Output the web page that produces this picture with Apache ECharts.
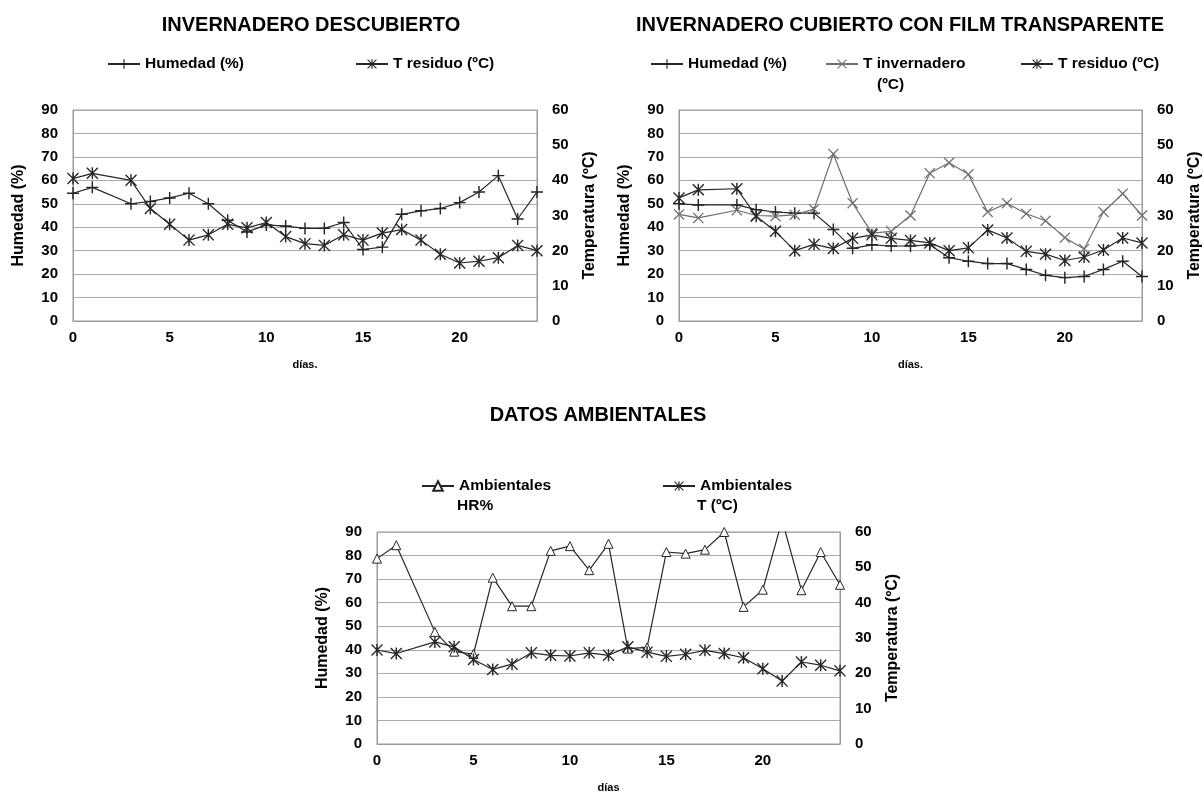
<!DOCTYPE html>
<html><head><meta charset="utf-8">
<script src="https://cdn.jsdelivr.net/npm/echarts@6/dist/echarts.min.js"></script>
<style>html,body{margin:0;padding:0;background:#fff}#c{width:1204px;height:805px}</style>
</head><body><div id="c"></div>
<script>
// ---- DATA ----
const dias = [0,1,3,4,5,6,7,8,9,10,11,12,13,14,15,16,17,18,19,20,21,22,23,24];
const xTicks = [0,5,10,15,20];
// Invernadero descubierto
const tlHumedad   = [54.5,57,50,51,52.5,54.5,50,43,38,41,40.5,39.5,39.5,42,30.5,31.5,45.5,47,48,50.5,55,62,43.5,55];
const tlTResiduo  = [40.5,42,40,32,27.5,23,24.5,27.5,26.5,28,24,22,21.5,24.5,23,25,26,23,19,16.5,17,18,21.5,20];
// Invernadero cubierto con film transparente
const trHumedad   = [50,49.5,49.5,47.5,46.5,46,46,39,31,32.5,32,32,32.5,27,25.5,24.5,24.5,22,19.5,18.5,19,22,25.5,19];
const trTInvern   = [30.3,29.3,31.5,30,29.8,30.2,31.8,47.5,33.5,25,25.5,30,42,45,41.7,31,33.5,30.5,28.5,23.7,20.5,31,36.2,30];
const trTResiduo  = [35,37.3,37.6,29.8,25.5,20,21.8,20.6,23.5,24.5,23.5,22.9,22.2,20,20.8,25.9,23.6,19.8,19,17.2,18.2,20.2,23.6,22.2];
// Datos ambientales
const ambHR       = [78.7,84.4,47.6,39.2,38.2,70.6,58.5,58.5,82,84,73.8,85,40.5,41,81.5,80.8,82.5,90,58.2,65.5,95,65.3,81.5,67.6];
const ambT        = [26.6,25.6,28.9,27.5,23.9,21.1,22.6,25.8,25.1,24.9,25.8,25.1,27.5,26,24.8,25.4,26.5,25.6,24.4,21.3,17.8,23.2,22.3,20.7];

const FONT = '"Liberation Sans",Arial,"DejaVu Sans",sans-serif';
const PLUS = 'path://M0,4.4H10V5.6H0Z M4.4,0H5.6V10H4.4Z';
const XMARK = 'path://M0.8,0L5,4.2L9.2,0L10,0.8L5.8,5L10,9.2L9.2,10L5,5.8L0.8,10L0,9.2L4.2,5L0,0.8Z';
const STAR = 'path://M0.8,0L5,4.2L9.2,0L10,0.8L5.8,5L10,9.2L9.2,10L5,5.8L0.8,10L0,9.2L4.2,5L0,0.8Z M4.4,0H5.6V10H4.4Z';

function pts(vals){ return dias.map((d,i)=>[d, vals[i]]); }

const grids = [
  {left:73, top:110, width:464, height:211},
  {left:679, top:110, width:464, height:211},
  {left:377, top:532, width:463, height:212}
];

const TICK = 15, LEG = 15.5, NAME = 16, TITLE = 20;

function xAx(gi, nm){
  return {gridIndex:gi, type:'value', min:0, max:24, interval:5,
    axisLine:{lineStyle:{color:'#999'}}, axisTick:{show:false}, splitLine:{show:false},
    axisLabel:{margin:9, fontFamily:FONT, fontWeight:'bold', fontSize:TICK, color:'#000',
      formatter:v=> xTicks.includes(v)? String(v):''},
    name:nm, nameLocation:'middle', nameGap:38,
    nameTextStyle:{fontFamily:FONT, fontWeight:'bold', fontSize:11, color:'#000'}};
}
function yLeft(gi){
  return {gridIndex:gi, type:'value', min:0, max:90, interval:10, position:'left',
    axisLine:{show:true, lineStyle:{color:'#999'}}, axisTick:{show:false},
    splitLine:{show:true, lineStyle:{color:'#aaaaaa', width:1}},
    axisLabel:{margin:15, fontFamily:FONT, fontWeight:'bold', fontSize:TICK, color:'#000'},
    name:'Humedad (%)', nameLocation:'middle', nameGap:46, nameRotate:90,
    nameTextStyle:{fontFamily:FONT, fontWeight:'bold', fontSize:NAME, color:'#000'}};
}
function yRight(gi){
  return {gridIndex:gi, type:'value', min:0, max:60, interval:10, position:'right',
    axisLine:{show:true, lineStyle:{color:'#999'}}, axisTick:{show:false},
    splitLine:{show:false},
    axisLabel:{margin:15, fontFamily:FONT, fontWeight:'bold', fontSize:TICK, color:'#000'},
    name:'Temperatura (ºC)', nameLocation:'middle', nameGap:45, nameRotate:90,
    nameTextStyle:{fontFamily:FONT, fontWeight:'bold', fontSize:NAME, color:'#000'}};
}
function ser(name, xi, yi, vals, symbol, size, color){
  return {type:'line', name, xAxisIndex:xi, yAxisIndex:yi, data:pts(vals),
    symbol, symbolSize:size, showAllSymbol:true,
    lineStyle:{color, width:1.2}, itemStyle:{color}, emphasis:{disabled:true}};
}
const legText = {fontFamily:FONT, fontWeight:'bold', fontSize:LEG, color:'#000'};
function leg(name, left, cy, fmt){
  const l = {data:[name], left, top:cy-9, itemWidth:32, itemHeight:12, itemGap:4,
    textStyle:legText, selectedMode:false, padding:0};
  if (fmt) l.formatter = fmt;
  return l;
}
function gtext(x, y, text, size, align){
  return {type:'text', x, y, style:{text, fill:'#000', font:'bold '+size+'px '+FONT,
    textAlign:align||'center', textVerticalAlign:'middle'}};
}

const option = {
  animation:false,
  backgroundColor:'#fff',
  grid: grids.map(g=>Object.assign({show:true, borderColor:'#999', borderWidth:1, backgroundColor:'transparent'}, g)),
  xAxis:[xAx(0,'días.'), xAx(1,'días.'), xAx(2,'días')],
  yAxis:[yLeft(0), yRight(0), yLeft(1), yRight(1), yLeft(2), yRight(2)],
  legend:[
    leg('Humedad (%)', 107, 65),
    leg('T residuo (ºC)', 355, 65),
    leg('Humedad (%)', 650, 65),
    leg('T invernadero (ºC)', 825, 65, ()=> 'T invernadero'),
    leg('T residuo (ºC)', 1020, 65),
    leg('Ambientales HR%', 421, 487, ()=> 'Ambientales'),
    leg('Ambientales T (ºC)', 662, 487, ()=> 'Ambientales')
  ],
  graphic:[
    gtext(311, 25, 'INVERNADERO DESCUBIERTO', TITLE),
    gtext(900, 25, 'INVERNADERO CUBIERTO CON FILM TRANSPARENTE', TITLE),
    gtext(598, 415, 'DATOS AMBIENTALES', TITLE),
    gtext(877, 85, '(ºC)', LEG, 'left'),
    gtext(457, 506, 'HR%', LEG, 'left'),
    gtext(697, 506, 'T (ºC)', LEG, 'left')
  ],
  series:[
    ser('Humedad (%)', 0, 0, tlHumedad, PLUS, 12, '#262626'),
    ser('T residuo (ºC)', 0, 1, tlTResiduo, STAR, 12, '#262626'),
    ser('Humedad (%)', 1, 2, trHumedad, PLUS, 12, '#262626'),
    ser('T invernadero (ºC)', 1, 3, trTInvern, XMARK, 11, '#6e6e6e'),
    ser('T residuo (ºC)', 1, 3, trTResiduo, STAR, 12, '#262626'),
    Object.assign(ser('Ambientales HR%', 2, 4, ambHR, 'triangle', 9, '#262626'),
      {itemStyle:{color:'#fff', borderColor:'#262626', borderWidth:1}}),
    ser('Ambientales T (ºC)', 2, 5, ambT, STAR, 12, '#262626')
  ]
};
const chart = echarts.init(document.getElementById('c'), null, {renderer:'canvas'});
chart.setOption(option);
</script>
</body></html>
